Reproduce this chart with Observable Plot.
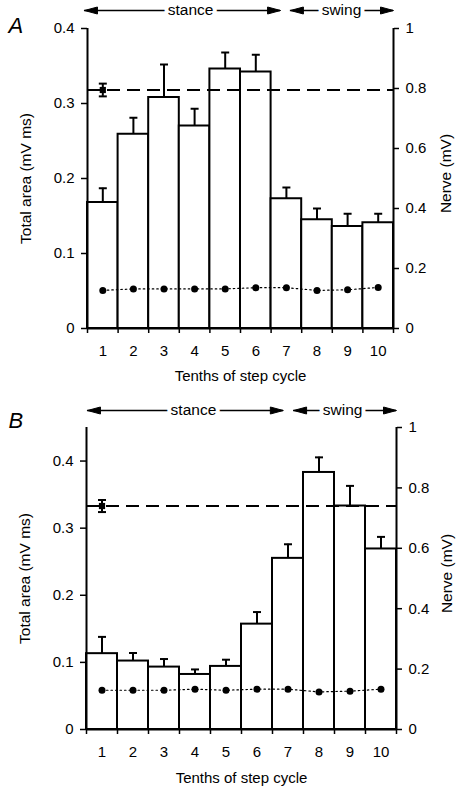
<!DOCTYPE html>
<html>
<head>
<meta charset="utf-8">
<script src="https://cdn.jsdelivr.net/npm/d3@7"></script>
<script src="https://cdn.jsdelivr.net/npm/@observablehq/plot@0.6"></script>
<style>
  html, body { margin: 0; padding: 0; background: #fff; }
  #chart svg { display: block; }
</style>
</head>
<body>
<div id="chart"></div>
<script>
// ---------- data ----------
const tenths = [1, 2, 3, 4, 5, 6, 7, 8, 9, 10];

// Panel A
const areaA  = [0.168, 0.259, 0.308, 0.270, 0.346, 0.342, 0.173, 0.145, 0.136, 0.141];
const semA   = [0.019, 0.022, 0.044, 0.023, 0.022, 0.023, 0.015, 0.015, 0.017, 0.012];
const nerveA = [0.127, 0.132, 0.132, 0.132, 0.132, 0.136, 0.136, 0.127, 0.129, 0.137];
const controlA = 0.318, controlSemA = 0.0085;

// Panel B
const areaB  = [0.113, 0.102, 0.093, 0.082, 0.094, 0.157, 0.255, 0.383, 0.333, 0.269];
const semB   = [0.025, 0.012, 0.012, 0.0075, 0.010, 0.018, 0.021, 0.0225, 0.030, 0.018];
const nerveB = [0.130, 0.130, 0.130, 0.1335, 0.130, 0.1335, 0.1335, 0.1245, 0.127, 0.1335];
const controlB = 0.333, controlSemB = 0.009;

// axis ticks / domains
const areaTicks = [0, 0.1, 0.2, 0.3, 0.4];
const areaTickLabels = ["0", "0.1", "0.2", "0.3", "0.4"];
const nerveTicks = [0, 0.2, 0.4, 0.6, 0.8, 1];
const nerveTickLabels = ["0", "0.2", "0.4", "0.6", "0.8", "1"];
const nerveMax = 1;
const xDomain = [0.5, 10.5];
const edges = [0.5, 1.5, 2.5, 3.5, 4.5, 5.5, 6.5, 7.5, 8.5, 9.5, 10.5];

// phase annotations (x in tenths of cycle)
const phaseNames = ["stance", "swing"];
const phaseStartA = [0.40, 7.13], phaseEndA = [6.81, 10.5], phaseLabelA = [3.87, 8.8];
const phaseStartB = [0.53, 7.18], phaseEndB = [6.85, 10.5], phaseLabelB = [3.95, 8.76];

// ---------- symbols ----------
const headRight = {draw(c) { c.moveTo(0, 0); c.lineTo(-13, -3.5); c.lineTo(-13, 3.5); c.closePath(); }};
const headLeft  = {draw(c) { c.moveTo(0, 0); c.lineTo(13, -3.5); c.lineTo(13, 3.5); c.closePath(); }};
const cap       = {draw(c) { c.moveTo(-4, 0); c.lineTo(4, 0); }};

const FONT = "'Liberation Sans', Arial, Helvetica, sans-serif";
const FS = 15;

function panel(o) {
  const rows = tenths.map((t, i) => ({x: t, value: o.area[i], upper: o.area[i] + o.sem[i], nerve: o.nerve[i] * o.yMax / nerveMax}));
  const phases = phaseNames.map((n, i) => ({name: n, start: o.pStart[i], end: o.pEnd[i], at: o.pLabel[i]}));
  const ctrl = [{x: tenths[0], value: o.control, lo: o.control - o.controlSem, hi: o.control + o.controlSem}];
  const k = o.yMax / nerveMax;
  const areaFmt = new Map(areaTicks.map((v, i) => [v, areaTickLabels[i]]));
  return Plot.plot({
    width: 457,
    height: o.height,
    marginTop: o.mt, marginBottom: o.mb, marginLeft: o.ml, marginRight: o.mr,
    style: {fontFamily: FONT, fontSize: FS + "px", background: "white", color: "black"},
    x: {domain: xDomain, axis: null},
    y: {domain: [0, o.yMax], axis: null},
    marks: [
      // bars
      Plot.rectY(rows, {x1: d => d.x - 0.5, x2: d => d.x + 0.5, y: "value", fill: "white", stroke: "black", strokeWidth: 2}),
      // error bars (upper only)
      Plot.ruleX(rows, {x: "x", y1: "value", y2: "upper", stroke: "black", strokeWidth: 2}),
      Plot.dot(rows, {x: "x", y: "upper", symbol: cap, fill: "none", stroke: "black", strokeWidth: 2}),
      // control dashed line + marker
      Plot.ruleY([o.control], {stroke: "black", strokeWidth: 2, strokeDasharray: "13,7"}),
      Plot.ruleX(ctrl, {x: "x", y1: "lo", y2: "hi", stroke: "black", strokeWidth: 2}),
      Plot.dot(ctrl, {x: "x", y: "lo", symbol: cap, fill: "none", stroke: "black", strokeWidth: 2}),
      Plot.dot(ctrl, {x: "x", y: "hi", symbol: cap, fill: "none", stroke: "black", strokeWidth: 2}),
      Plot.dot(ctrl, {x: "x", y: "value", r: 3.5, fill: "black", symbol: "square"}),
      // nerve
      Plot.line(rows, {x: "x", y: "nerve", stroke: "black", strokeWidth: 1.2, strokeDasharray: "1.5,3"}),
      Plot.dot(rows, {x: "x", y: "nerve", r: 3.5, fill: "black"}),
      // axis lines
      Plot.ruleX(xDomain, {stroke: "black", strokeWidth: 2}),
      Plot.ruleY([0], {stroke: "black", strokeWidth: 2}),
      // axes
      Plot.axisX(edges, {tickSize: 5, tickFormat: () => "", strokeWidth: 1.5}),
      Plot.axisX(tenths, {tickSize: 0, tickPadding: o.xPad, fontSize: FS, label: null, tickFormat: d => String(d)}),
      Plot.axisY(areaTicks, {anchor: "left", tickSize: 6, tickPadding: 7, strokeWidth: 1.5, fontSize: FS, label: null,
        tickFormat: d => areaFmt.get(d)}),
      Plot.axisY(nerveTicks.map(v => v * k), {anchor: "right", tickSize: 5, tickPadding: 7, strokeWidth: 1.5, fontSize: FS, label: null,
        tickFormat: (d, i) => nerveTickLabels[i]}),
      // axis titles
      Plot.text(["Tenths of step cycle"], {frameAnchor: "bottom", dy: o.xLabelDy, fontSize: FS, lineAnchor: "middle"}),
      Plot.text(["Total area (mV ms)"], {frameAnchor: "left", rotate: -90, dx: -61, textAnchor: "middle", lineAnchor: "middle", fontSize: 15.5}),
      Plot.text(["Nerve (mV)"], {frameAnchor: "right", rotate: -90, dx: o.rLabelDx, dy: o.rLabelDy, textAnchor: "middle", lineAnchor: "middle", fontSize: 15.5}),
      // panel letter
      Plot.text([o.letter], {frameAnchor: "top-left", dx: o.letterDx, dy: o.letterDy, fontSize: 22, fontStyle: "italic", textAnchor: "start", lineAnchor: "top"}),
      // phase arrows
      Plot.ruleY(phases, {y: () => o.yMax, x1: "start", x2: "end", dy: o.arrowDy, stroke: "black", strokeWidth: 1.5}),
      Plot.dot(phases, {x: "start", y: () => o.yMax, dy: o.arrowDy, symbol: headLeft, fill: "black", stroke: "black", strokeWidth: 1}),
      Plot.dot(phases, {x: "end", y: () => o.yMax, dy: o.arrowDy, symbol: headRight, fill: "black", stroke: "black", strokeWidth: 1}),
      Plot.text(phases, {x: "at", y: () => o.yMax, dy: o.arrowDy, text: "name", fill: "black", stroke: "white", strokeWidth: 8, fontSize: 15.5, lineAnchor: "middle"})
    ]
  });
}

const chart = document.getElementById("chart");
chart.append(panel({
  letter: "A", area: areaA, sem: semA, nerve: nerveA, control: controlA, controlSem: controlSemA,
  yMax: 0.4, height: 390, mt: 28, mb: 62, ml: 87, mr: 64,
  pStart: phaseStartA, pEnd: phaseEndA, pLabel: phaseLabelA, arrowDy: -18,
  xPad: 17, xLabelDy: 47.7, rLabelDx: 53, rLabelDy: -5, letterDx: -79, letterDy: -11
}));
chart.append(panel({
  letter: "B", area: areaB, sem: semB, nerve: nerveB, control: controlB, controlSem: controlSemB,
  yMax: 0.45, height: 401, mt: 37, mb: 62, ml: 86, mr: 61,
  pStart: phaseStartB, pEnd: phaseEndB, pLabel: phaseLabelB, arrowDy: -17,
  xPad: 17, xLabelDy: 49, rLabelDx: 51, rLabelDy: -5, letterDx: -78, letterDy: -15
}));
</script>
</body>
</html>
